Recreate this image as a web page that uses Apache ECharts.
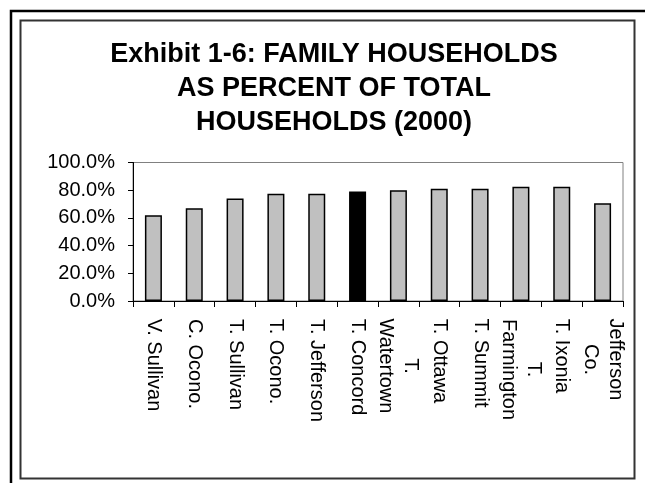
<!DOCTYPE html>
<html>
<head>
<meta charset="utf-8">
<script src="https://cdn.jsdelivr.net/npm/echarts@6/dist/echarts.min.js"></script>
<style>
html,body{margin:0;padding:0;background:#fff;}
#chart{width:645px;height:483px;}
</style>
</head>
<body>
<div id="chart"></div>
<script>
// Data
var titleLines = ['Exhibit 1-6: FAMILY HOUSEHOLDS', 'AS PERCENT OF TOTAL', 'HOUSEHOLDS (2000)'];
var categories = ['V. Sullivan', 'C. Ocono.', 'T. Sullivan', 'T. Ocono.', 'T. Jefferson', 'T. Concord',
                  'T.\nWatertown', 'T. Ottawa', 'T. Summit', 'T.\nFarmington', 'T. Ixonia', 'Jefferson\nCo.'];
var familyPct = [62.0, 67.0, 74.0, 77.5, 77.5, 79.0, 80.0, 81.0, 81.0, 82.5, 82.5, 70.5];
var highlighted = 'T. Concord';
var yTicks = [0, 20, 40, 60, 80, 100];

var FONT = '"Liberation Sans", Arial, sans-serif';
var xFontSize = 20;

// measure lines for centring multi-line labels
var cv = document.createElement('canvas').getContext('2d');
cv.font = xFontSize + 'px "Liberation Sans"';
var rich = {};
categories.forEach(function (c, i) {
  var lines = c.split('\n');
  var maxW = 0;
  lines.forEach(function (l) { maxW = Math.max(maxW, cv.measureText(l).width); });
  rich['w' + i] = { width: Math.ceil(maxW) + 1, align: 'center', fontSize: xFontSize, fontFamily: FONT, color: '#000', lineHeight: 25 };
});

var chart = echarts.init(document.getElementById('chart'), null, { renderer: 'canvas' });
chart.setOption({
  backgroundColor: '#fff',
  animation: false,
  title: {
    text: titleLines.join('\n'),
    left: 329, top: 33, textAlign: 'center',
    textStyle: { fontFamily: FONT, fontWeight: 'bold', fontSize: 27, lineHeight: 34, color: '#000' }
  },
  graphic: [
    { type: 'rect', shape: { x: 11, y: 11, width: 660, height: 500 }, style: { fill: 'none', stroke: '#000', lineWidth: 2.5 }, z: 100 },
    { type: 'rect', shape: { x: 20.5, y: 20.5, width: 614, height: 458 }, style: { fill: 'none', stroke: '#333', lineWidth: 2 }, z: 100 }
  ],
  grid: {
    left: 133, right: 22, top: 162.5, bottom: 182,
    show: true, borderColor: '#808080', borderWidth: 1, backgroundColor: '#fff'
  },
  xAxis: {
    type: 'category',
    data: categories,
    boundaryGap: true,
    axisLine: { lineStyle: { color: '#000', width: 1 } },
    axisTick: { show: true, length: 6, lineStyle: { color: '#000' } },
    axisLabel: {
      rotate: -90, margin: 17, interval: 0,
      fontFamily: FONT, fontSize: xFontSize, color: '#000', lineHeight: 25,
      formatter: function (v, i) {
        return v.split('\n').map(function (l) { return '{w' + i + '|' + l + '}'; }).join('\n');
      },
      rich: rich
    }
  },
  yAxis: {
    type: 'value', min: 0, max: 100, interval: 20,
    axisLine: { show: true, lineStyle: { color: '#000', width: 1 } },
    axisTick: { show: true, length: 5, lineStyle: { color: '#000' } },
    splitLine: { show: false },
    axisLabel: {
      margin: 18, fontFamily: FONT, fontSize: 20, color: '#000',
      formatter: function (v) { return v.toFixed(1) + '%'; }
    }
  },
  series: [{
    type: 'bar',
    barWidth: 17,
    data: familyPct.map(function (v, i) {
      var hi = categories[i] === highlighted;
      return { value: v, itemStyle: { color: hi ? '#000' : '#C0C0C0', borderColor: '#000', borderWidth: 1.5 } };
    })
  }]
});
</script>
</body>
</html>
